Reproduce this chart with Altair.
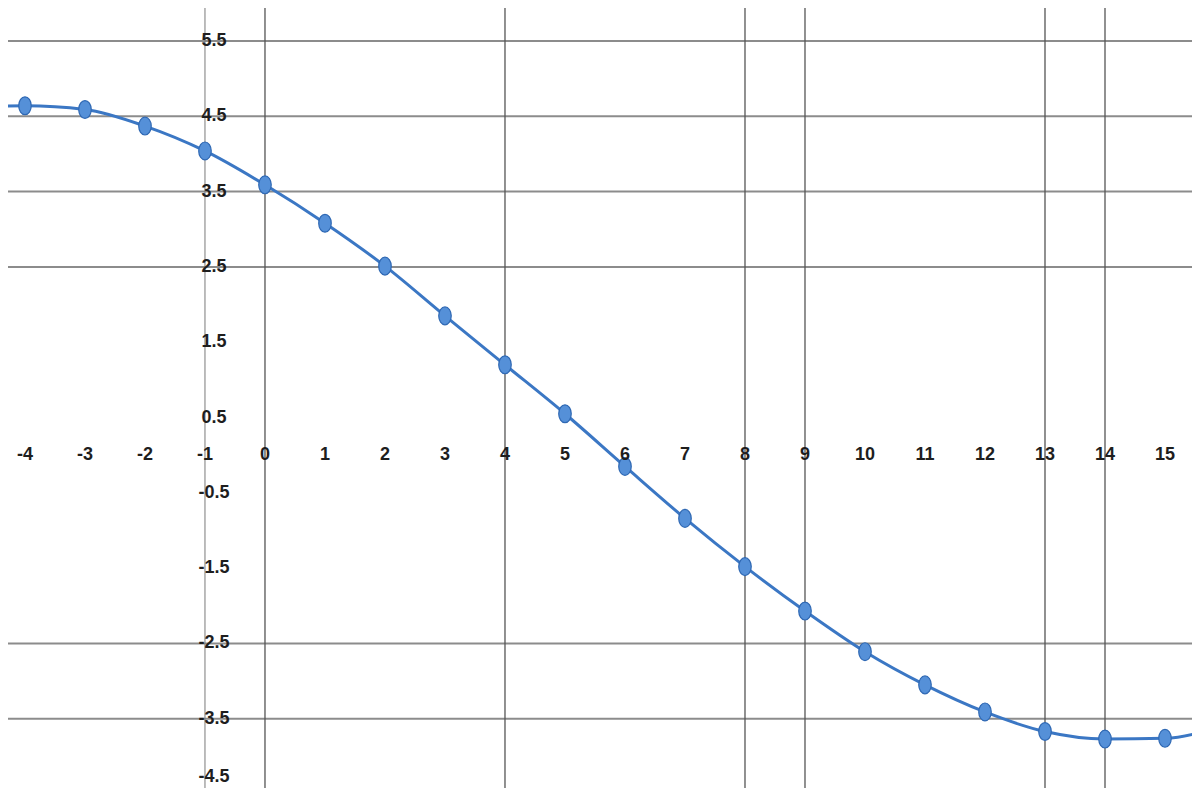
import altair as alt
import pandas as pd

# x positions (tick labels) and curve values
x_ticks = [-4, -3, -2, -1, 0, 1, 2, 3, 4, 5, 6, 7, 8, 9, 10, 11, 12, 13, 14, 15]
y_vals = [4.64, 4.59, 4.37, 4.04, 3.59, 3.08, 2.51, 1.85, 1.20, 0.55,
          -0.15, -0.84, -1.48, -2.07, -2.61, -3.05, -3.41, -3.67, -3.77, -3.76]

# the line runs on past both edges of the picture
edge_x = [-5, 16]
edge_y = [4.62, -3.58]

y_ticks = [5.5, 4.5, 3.5, 2.5, 1.5, 0.5, -0.5, -1.5, -2.5, -3.5]
y_tick_low = [-4.5]   # sits on the bottom edge
y_grid = [5.5, 4.5, 3.5, 2.5, -2.5, -3.5]
x_grid = [0, 4, 8, 9, 13, 14]
y_axis_at = [-1]

W = 1184
H = 780

pts = pd.DataFrame({"x": x_ticks, "y": y_vals})
line_df = pd.DataFrame({"x": [edge_x[0]] + x_ticks + [edge_x[1]],
                        "y": [edge_y[0]] + y_vals + [edge_y[1]]})
xlab = pd.DataFrame({"x": x_ticks, "y": [0] * len(x_ticks),
                     "t": [str(v) for v in x_ticks]})
ylab = pd.DataFrame({"x": y_axis_at * len(y_ticks), "y": y_ticks,
                     "t": ["%.1f" % v for v in y_ticks]})
ylab_low = pd.DataFrame({"x": y_axis_at, "y": y_tick_low,
                         "t": ["%.1f" % v for v in y_tick_low]})

xs = alt.Scale(domain=[-4.283, 15.45], nice=False, zero=False)
ys = alt.Scale(domain=[-4.42, 5.938], nice=False, zero=False)

X = alt.X("x:Q", scale=xs, axis=None)
Y = alt.Y("y:Q", scale=ys, axis=None)

hgrid = alt.Chart(pd.DataFrame({"y": y_grid})).mark_rule(
    color="#8c8c8c", strokeWidth=2
).encode(y=Y)

vgrid = alt.Chart(pd.DataFrame({"x": x_grid})).mark_rule(
    color="#555555", strokeWidth=1.3
).encode(x=X)

yaxis_line = alt.Chart(pd.DataFrame({"x": y_axis_at})).mark_rule(
    color="#7a7a7a", strokeWidth=1
).encode(x=X)

curve = alt.Chart(line_df).mark_line(
    color="#3b77c4", strokeWidth=3, clip=True, interpolate="monotone"
).encode(x=X, y=Y)

ellipse = "M-0.7,0 A0.7,1 0 1,0 0.7,0 A0.7,1 0 1,0 -0.7,0 Z"
markers = alt.Chart(pts).mark_point(
    shape=ellipse, size=320, filled=True, fill="#5590d8",
    stroke="#2f68b3", strokeWidth=1.2, opacity=1
).encode(x=X, y=Y)

label_style = dict(font="Liberation Sans", fontSize=18, fontWeight="bold",
                   color="#1e1e1e")

xtext = alt.Chart(xlab).mark_text(
    baseline="middle", **label_style
).encode(x=X, y=Y, text="t:N")

ytext = alt.Chart(ylab).mark_text(
    baseline="middle", align="center", dx=9, **label_style
).encode(x=X, y=Y, text="t:N")

ytext_low = alt.Chart(ylab_low).mark_text(
    baseline="bottom", align="center", dx=9, dy=-8, **label_style
).encode(x=X, y=Y, text="t:N")

chart = alt.layer(
    hgrid, vgrid, yaxis_line, curve, markers, xtext, ytext, ytext_low
).properties(
    width=W, height=H, padding=0,
    autosize=alt.AutoSizeParams(type="none"),
    background="white",
).configure_view(stroke=None)

chart.save("out.html", embed_options={"renderer": "svg", "actions": False})
